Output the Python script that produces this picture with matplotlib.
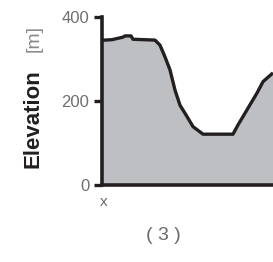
import matplotlib
matplotlib.use('Agg')
import matplotlib.pyplot as plt

# profile distance (arbitrary units) and elevation in m
dist = [0, 3, 10, 21, 23, 29, 31, 53, 58, 63, 68, 73, 78, 85, 91, 101, 131, 136, 145, 155, 161, 171]
elev = [345, 345, 346, 352, 355, 355, 347, 345, 333, 305, 274, 226, 190, 163, 139, 121, 121, 143, 179, 219, 246, 267]
yticks = [0, 200, 400]

fig = plt.figure(figsize=(2.73, 2.62), dpi=100)
ax = fig.add_axes([102 / 273, 1 - 185 / 262, 1 - 102 / 273, (185 - 17) / 262])

ax.fill_between(dist, elev, 0, color='#bebfc3', lw=0)
ax.plot(dist, elev, color='#231f20', lw=2.4, solid_capstyle='butt')

ax.set_xlim(0, 171)
ax.set_ylim(0, 400)
ax.set_yticks(yticks)
ax.set_yticklabels([str(v) for v in yticks], fontsize=12, color='#6f6f6f',
                   family='Liberation Sans')
ax.tick_params(axis='y', direction='out', length=6, width=2.4, color='#231f20', pad=3)
ax.set_xticks([])
for s in ['top', 'right']:
    ax.spines[s].set_visible(False)
for s in ['left', 'bottom']:
    ax.spines[s].set_linewidth(2.6)
    ax.spines[s].set_color('#231f20')

fig.text(104 / 273, 1 - 202 / 262, 'x', fontsize=11, color='#6a6a6a', ha='center', va='center',
         family='Liberation Sans')
fig.text(33 / 273, 1 - 119 / 262, 'Elevation', rotation=90, fontsize=16, fontweight='bold',
         color='#231f20', ha='center', va='center', family='Liberation Sans')
fig.text(34 / 273, 1 - 39 / 262, '[m]', rotation=90, fontsize=14, color='#8a8a8a',
         ha='center', va='center', family='Liberation Sans')
fig.text(163 / 273, 1 - 236 / 262, '( 3 )', fontsize=14, color='#6a6a6a', ha='center', va='center',
         family='Liberation Sans')

fig.savefig('out.png', dpi=100)
